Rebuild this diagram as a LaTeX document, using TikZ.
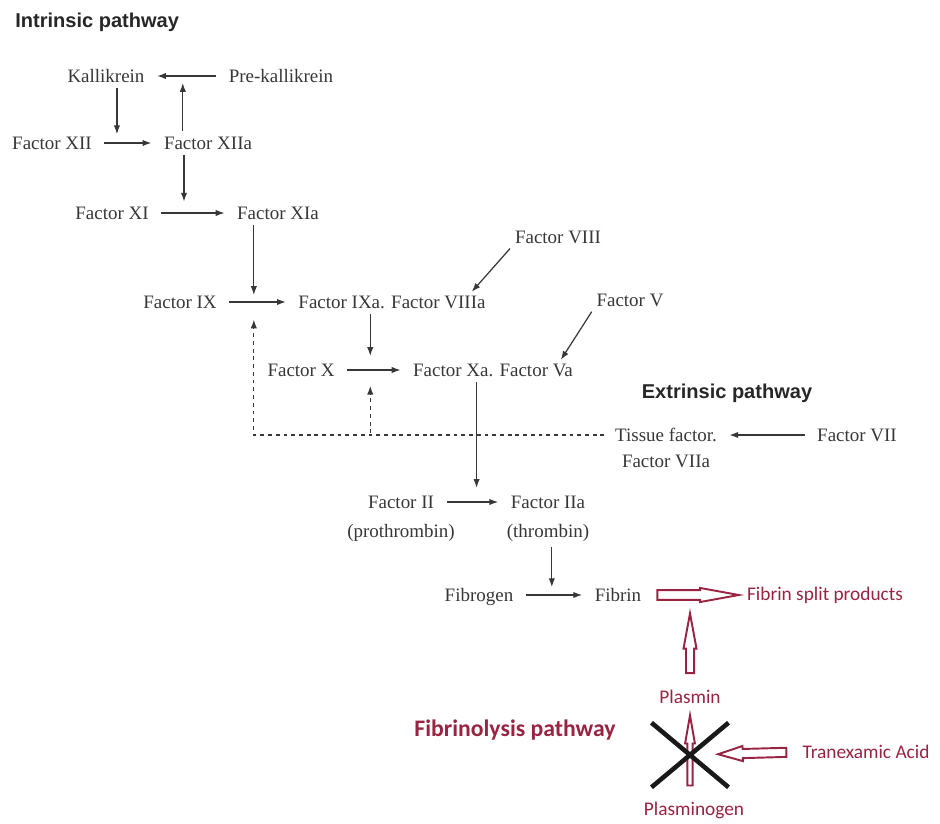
\documentclass[tikz,border=0pt]{standalone}
\usepackage{fontspec}
\setmainfont{Liberation Serif}
\newfontfamily\headfont{Liberation Sans}
\newfontfamily\lysfont{Carlito}
\usepackage{tikz}
\usetikzlibrary{arrows.meta}
\usetikzlibrary{positioning}
\usetikzlibrary{calc}
\usetikzlibrary{shapes.misc}
\usepackage{xcolor}
\definecolor{ink}{RGB}{55,55,55}
\definecolor{lysred}{RGB}{152,36,66}

% hollow block arrow: start gap, end gap, shaft half width, head half width, head length
\tikzset{
	fat/.style n args={5}{draw=lysred, fill=white, line width=1.1pt,
		to path={let \p1=($(\tikztostart)!#1!(\tikztotarget)$),
			\p2=($(\tikztotarget)!#2!(\tikztostart)$),
			\p3=($(\p2)!#5!(\p1)$) in
			($(\p1)!#3!90:(\p2)$) -- ($(\p3)!#3!-90:(\p1)$) -- ($(\p3)!#4!-90:(\p1)$) -- (\p2)
			-- ($(\p3)!#4!90:(\p1)$) -- ($(\p3)!#3!90:(\p1)$) -- ($(\p1)!#3!-90:(\p2)$) -- cycle}}
}

\begin{document}
\begin{tikzpicture}[x=0.02cm, y=-0.02cm]

	\tikzstyle{fac} = [inner sep=2pt, text=ink, font=\fontsize{10.8}{13}\selectfont]
	\tikzstyle{head} = [inner sep=0pt, text=ink!70!black, font=\headfont\bfseries\fontsize{11.4}{13}\selectfont]
	\tikzstyle{lys} = [inner sep=2pt, text=lysred, font=\lysfont\fontsize{11}{13}\selectfont]
	\tikzstyle{line} = [draw=ink, line width=0.7pt, -{Latex[length=5pt,width=3.6pt]}, shorten <=5pt, shorten >=5pt]
	\tikzstyle{cat} = [draw=ink, line width=0.7pt, -{Latex[length=5pt,width=3.6pt]}, shorten <=1pt]
	\tikzstyle{dline} = [cat, dash pattern=on 2.2pt off 2.2pt]

	\useasboundingbox (0,0) rectangle (940,824);

	% intrinsic
	\node [head, anchor=west] (intr) at (15,22) {Intrinsic pathway};
	\node [fac] (kal) at (106,76) {Kallikrein};
	\node [fac] (pkal) at (281,76) {Pre-kallikrein};
	\node [fac] (f12) at (52,143) {Factor XII};
	\node [fac] (f12a) at (208,143) {Factor XIIa};
	\node [fac] (f11) at (112,213) {Factor XI};
	\node [fac] (f11a) at (278,213) {Factor XIa};
	\node [fac] (f9) at (180,302) {Factor IX};
	\node [fac] (f9a) at (392,302) {Factor IXa. Factor VIIIa};
	\node [fac] (f8) at (558,237) {Factor VIII};
	\node [fac] (f10) at (301,370) {Factor X};
	\node [fac] (f10a) at (493,370) {Factor Xa. Factor Va};
	\node [fac] (f5) at (630,300) {Factor V};

	% extrinsic
	\node [head] (extr) at (727,393) {Extrinsic pathway};
	\node [fac, label={[fac, label distance=3pt]below:{Factor VIIa}}] (tf) at (666,435) {Tissue factor.};
	\node [fac] (f7) at (857,435) {Factor VII};

	% common
	\node [fac, label={[fac, name=pthr, label distance=4.5pt]below:{(prothrombin)}}] (f2) at (401,502) {Factor II};
	\node [fac, label={[fac, name=thr, label distance=4.5pt]below:{(thrombin)}}] (f2a) at (548,502) {Factor IIa};
	\node [fac, text depth=0pt] (fbg) at (479,595) {Fibrogen};
	\node [fac] (fib) at (618,595) {Fibrin};

	% fibrinolysis
	\node [lys] (fsp) at (825,595) {Fibrin split products};
	\node [lys] (plsm) at (690,697) {Plasmin};
	\node [lys, font=\lysfont\bfseries\fontsize{13.5}{16}\selectfont] (fpath) at (515,730) {Fibrinolysis pathway};
	\node [lys] (txa) at (866,752) {Tranexamic Acid};
	\node [lys] (plg) at (694,810) {Plasminogen};

	% reactions
	\draw [line] (pkal) -- coordinate[pos=0.55] (r0) (kal);
	\draw [line] (f12) -- coordinate[pos=0.33] (r12) (f12a);
	\draw [line] (f11) -- coordinate[pos=0.39] (r11) (f11a);
	\draw [line] (f9) -- coordinate[pos=0.45] (r9) (f9a);
	\draw [line] (f10) -- coordinate[pos=0.45] (r10) (f10a);
	\draw [line] (f7) -- (tf);
	\draw [line] (f2) -- coordinate[pos=0.56] (r2) (f2a);
	\draw [line] (fbg) -- coordinate[pos=0.47] (rf) (fib);

	% activators
	\draw [cat, shorten >=5pt] (kal.south -| r12) -- (r12);
	\draw [cat, shorten >=4pt] (f12a.north -| r0) -- (r0);
	\draw [cat, shorten >=6.5pt] (f12a.south -| r11) -- (r11);
	\draw [cat, shorten >=4pt] (f11a.south -| r9) -- (r9);
	\draw [cat, shorten >=8pt] (f9a.south -| r10) -- (r10);
	\draw [cat, shorten >=8pt] (f10a.south -| r2) -- (r2);
	\draw [cat, shorten >=4.5pt] (thr.south -| rf) -- (rf);
	\draw [cat] (f8.south west) -- ([xshift=-10pt]f9a.north east);
	\draw [cat] (f5.south west) -- ([xshift=-9pt]f10a.north east);

	% dashed feedback
	\draw [dline, shorten <=4pt, shorten >=10pt] (tf.west) -| (r9);
	\draw [dline, shorten >=9pt] (r10 |- tf.west) -- (r10);

	% hollow arrows
	\draw [fat={7pt}{2.5pt}{2.8pt}{4pt}{22pt}] (fib.east) to (fsp.west);
	\draw [fat={7.5pt}{4.5pt}{2.3pt}{3.7pt}{20pt}] (plsm.north) to (plsm.north |- fib.south);
	\draw [fat={7pt}{4.4pt}{1.5pt}{2.8pt}{16pt}] (plsm.south |- plg.north) to (plsm.south);
	\node [cross out, draw=black!90, line width=2.6pt, minimum width=1.45cm, minimum height=1.2cm, inner sep=0pt] (blk) at (690,755) {};
	\draw [fat={7pt}{16pt}{2.6pt}{4.3pt}{14pt}] (txa.west) to (blk.center);

\end{tikzpicture}
\end{document}
